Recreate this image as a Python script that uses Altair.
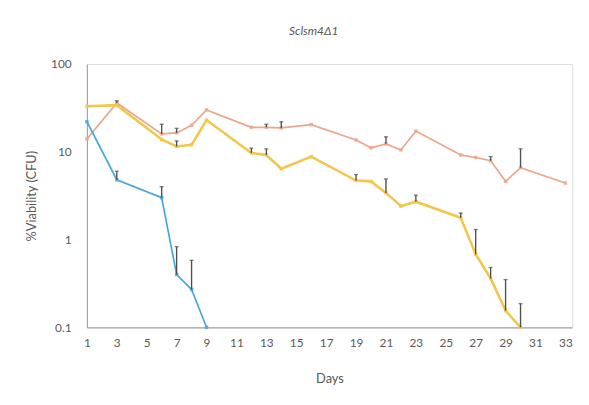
import altair as alt
import pandas as pd

# ---- data ----
orange_days = [1, 3, 6, 7, 8, 9, 12, 13, 14, 16, 19, 20, 21, 22, 23, 26, 27, 28, 29, 30, 33]
orange_vals = [14, 36, 16, 16.4, 20, 30, 19, 19, 18.7, 20.4, 13.6, 11.1, 12.3, 10.5, 17.2, 9.2, 8.6, 7.9, 4.6, 6.6, 4.4]

yellow_days = [1, 3, 6, 7, 8, 9, 12, 13, 14, 16, 19, 20, 21, 22, 23, 26, 27, 28, 29, 30]
yellow_vals = [33, 34, 13.8, 11.5, 12, 23, 9.7, 9.2, 6.4, 8.8, 4.7, 4.6, 3.4, 2.4, 2.7, 1.77, 0.68, 0.36, 0.155, 0.1]

blue_days = [1, 3, 6, 7, 8, 9]
blue_vals = [22, 4.8, 3.0, 0.40, 0.27, 0.1]

# upper ends of the (positive-only) error bars
err_series = ["orange"] * 8 + ["yellow"] * 11 + ["blue"] * 4
err_days = [3, 6, 7, 13, 14, 21, 28, 30,
            7, 12, 13, 19, 21, 23, 26, 27, 28, 29, 30,
            3, 6, 7, 8]
err_vals = [36, 16, 16.4, 19, 18.7, 12.3, 7.9, 6.6,
            11.5, 9.7, 9.2, 4.7, 3.4, 2.7, 1.77, 0.68, 0.36, 0.155, 0.1,
            4.8, 3.0, 0.40, 0.27]
err_upper = [38, 20.6, 18.5, 20.6, 22, 14.8, 8.8, 10.8,
             13.3, 11, 10.8, 5.5, 4.9, 3.2, 2.0, 1.3, 0.48, 0.35, 0.186,
             6.0, 4.0, 0.83, 0.58]

x_ticks = list(range(1, 34, 2))
y_ticks = [0.1, 1, 10, 100]

series_names = ["orange", "yellow", "blue"]
line_colors = ["#EBA68B", "#F3C64A", "#45A8DA"]
marker_colors = ["#B9735A", "#C9A030", "#2F7FB0"]

rows = []
for s, ds, vs in [("orange", orange_days, orange_vals),
                  ("yellow", yellow_days, yellow_vals),
                  ("blue", blue_days, blue_vals)]:
    for d, v in zip(ds, vs):
        rows.append({"series": s, "day": d, "value": v})
df = pd.DataFrame(rows)

err = pd.DataFrame({"series": err_series, "day": err_days,
                    "value": err_vals, "upper": err_upper})

txt = "#595959"
font = "Lato"

x_axis = alt.Axis(values=x_ticks, ticks=False, grid=False,
                  domainColor="#A6A6A6", domainWidth=1.2,
                  labelColor=txt, labelFontSize=12, labelFont=font,
                  labelPadding=10, labelFlush=False, labelOverlap=False,
                  title="Days", titleColor=txt, titleFont=font,
                  titleFontSize=13, titleFontWeight="normal",
                  titlePadding=25)
y_axis = alt.Axis(values=y_ticks, format="~g", ticks=False, grid=False,
                  domainColor="#A6A6A6", domainWidth=1.2,
                  labelColor=txt, labelFontSize=12, labelFont=font,
                  labelPadding=16, labelOverlap=False,
                  title="%Viability (CFU)", titleColor=txt,
                  titleFont=font, titleFontSize=13,
                  titleFontWeight="normal", titlePadding=12)
x_scale = alt.Scale(domain=[1, 33.45], nice=False, zero=False)
y_scale = alt.Scale(type="log", domain=[0.1, 100], nice=False)

x_enc = alt.X("day:Q", scale=x_scale, axis=x_axis)
y_enc = alt.Y("value:Q", scale=y_scale, axis=y_axis)

col = alt.Color("series:N", scale=alt.Scale(domain=series_names, range=line_colors), legend=None)

base = alt.Chart(df)

line_o = base.transform_filter("datum.series == 'orange'").mark_line(strokeWidth=1.7).encode(x=x_enc, y=y_enc, color=col)
line_y = base.transform_filter("datum.series == 'yellow'").mark_line(strokeWidth=2.6).encode(x=x_enc, y=y_enc, color=col)
line_b = base.transform_filter("datum.series == 'blue'").mark_line(strokeWidth=1.7).encode(x=x_enc, y=y_enc, color=col)

pts = base.mark_point(filled=True, size=12, shape="square", opacity=0.85).encode(
    x=x_enc, y=y_enc, color=alt.Color("series:N", scale=alt.Scale(domain=series_names, range=marker_colors), legend=None))

ebase = alt.Chart(err)
bars = ebase.mark_rule(color="#505050", strokeWidth=1.4).encode(
    x=x_enc, y=y_enc, y2="upper:Q")
caps = ebase.mark_tick(color="#505050", orient="horizontal", size=4, thickness=1.4).encode(
    x=x_enc, y=alt.Y("upper:Q", scale=y_scale, axis=y_axis))

chart = alt.layer(line_o, line_y, line_b, pts, bars, caps).properties(
    width=492, height=267,
    autosize="none",
    padding={"left": 80, "top": 54, "right": 9, "bottom": 76},
    title=alt.TitleParams("Sclsm4Δ1", font=font, fontStyle="italic",
                          fontWeight="normal", fontSize=12, color=txt,
                          anchor="middle", dx=-16, offset=20),
).configure_view(stroke=None).configure_axis(labelOverlap=False).configure(background="white")

chart.save("out.html", embed_options={"renderer": "svg", "actions": False})
